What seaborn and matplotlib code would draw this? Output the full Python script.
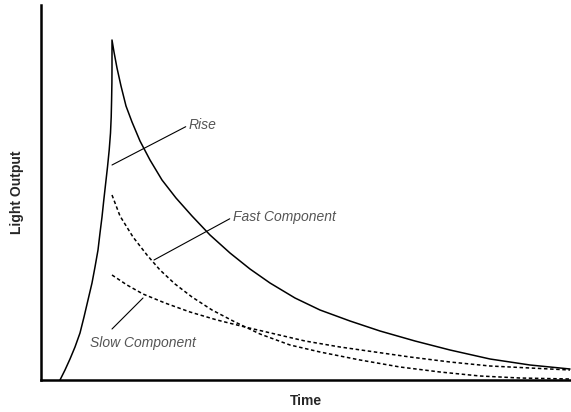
import pandas as pd
import matplotlib.pyplot as plt
import seaborn as sns

# solid curve: rise then decay (arbitrary units)
total_time = [19, 24, 29, 34, 39, 43, 47, 51, 54, 57, 59, 61, 62.8,
              64.7, 66.5, 68.2, 69.5, 70.2, 70.6, 70.9, 71, 71,
              73, 76, 80, 85, 91, 99, 109, 121, 135, 151, 169, 189,
              209, 229, 254, 279, 309, 339, 374, 409, 449, 489, 529]
total_output = [0, 10, 21, 33, 47, 63, 80, 97, 113, 130, 147, 163, 180,
                197, 213, 230, 247, 263, 280, 297, 313, 340,
                328, 312, 294, 274, 258, 239, 220, 200, 182, 164, 145, 127,
                111, 97, 82, 70, 59, 49, 39, 30, 21, 15, 11]

fast_time = [71, 79, 92, 106, 119, 134, 151, 171, 194, 219, 249, 279,
             319, 359, 399, 439, 479, 529]
fast_output = [185, 164, 143, 125, 110, 96, 83, 70, 58, 46, 35, 28,
               20, 13, 8, 4, 2, 1]

slow_time = [71, 86, 102, 124, 149, 176, 204, 234, 264, 299, 334, 369,
             409, 449, 489, 529]
slow_output = [105, 95, 86, 77, 68, 60, 53, 46, 39, 33, 28, 23,
               18, 14, 12, 10]

df_total = pd.DataFrame({'Time': total_time, 'Output': total_output})
df_fast = pd.DataFrame({'Time': fast_time, 'Output': fast_output})
df_slow = pd.DataFrame({'Time': slow_time, 'Output': slow_output})

sns.set_style("white")
plt.rcParams['font.family'] = ['Liberation Sans', 'DejaVu Sans']

fig = plt.figure(figsize=(5.71, 4.12), dpi=100)
ax = fig.add_axes([41 / 571, 32 / 412, 530 / 571, 375 / 412])

sns.lineplot(data=df_total, x='Time', y='Output', sort=False, estimator=None,
             color='black', linewidth=1.1, ax=ax)
sns.lineplot(data=df_fast, x='Time', y='Output', sort=False, estimator=None,
             color='black', linewidth=1.1, ax=ax)
sns.lineplot(data=df_slow, x='Time', y='Output', sort=False, estimator=None,
             color='black', linewidth=1.1, ax=ax)
ax.lines[1].set_dashes([2.3, 1.7])
ax.lines[2].set_dashes([2.3, 1.7])
for ln in ax.lines:
    ln.set_solid_joinstyle('round')

ax.set_xlim(0, 530)
ax.set_ylim(0, 375)
ax.set_xticks([])
ax.set_yticks([])
ax.spines['top'].set_visible(False)
ax.spines['right'].set_visible(False)
for side in ['left', 'bottom']:
    ax.spines[side].set_color('black')
    ax.spines[side].set_linewidth(1.8)

ax.set_xlabel('Time', fontsize=10, fontweight='bold', labelpad=10)
ax.set_ylabel('Light Output', fontsize=10, fontweight='bold', labelpad=12)

# callouts
lab_style = dict(fontsize=10, style='italic', color='#555555', va='center', ha='left')
ax.annotate('Rise', xy=(71, 215), xytext=(148, 255),
            arrowprops=dict(arrowstyle='-', color='black', lw=0.8,
                            shrinkA=0, shrinkB=0, relpos=(0, 0.5)), **lab_style)
ax.annotate('Fast Component', xy=(113, 120), xytext=(192, 163),
            arrowprops=dict(arrowstyle='-', color='black', lw=0.8,
                            shrinkA=0, shrinkB=0, relpos=(0, 0.5)), **lab_style)
ax.plot([71, 102], [51, 82], color='black', lw=0.8)
ax.text(49, 37, 'Slow Component', **lab_style)

fig.savefig('out.png', dpi=100)
